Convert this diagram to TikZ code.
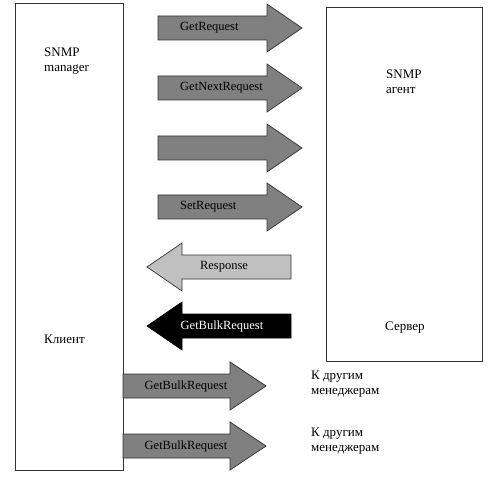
\documentclass[tikz,border=0pt]{standalone}
\usepackage{fontspec}
\setmainfont{Liberation Serif}
\definecolor{arrgray}{HTML}{808080}
\definecolor{arrlight}{HTML}{C0C0C0}
\definecolor{linegray}{HTML}{333333}
\newcommand\blockarrow[5]{%
  \draw[arrowline,#5] ({#1},{#4-12}) -- ({#2},{#4-12}) -- ({#2},{#4-24}) -- ({#3},{#4})
    -- ({#2},{#4+24}) -- ({#2},{#4+12}) -- ({#1},{#4+12}) -- cycle;}
\begin{document}
\begin{tikzpicture}[x=1pt,y=-1pt,
  arrowline/.style={draw=linegray,line width=0.7pt,line join=miter},
  boxstyle/.style={draw=linegray,line width=0.8pt,fill=white},
  lbl/.style={font=\fontsize{12.5}{14}\selectfont,inner sep=0pt},
  txt/.style={font=\fontsize{13}{15.5}\selectfont,inner sep=0pt,align=left,anchor=west}]
\useasboundingbox[fill=white] (0,0) rectangle (500,478);
% boxes
\draw[boxstyle] (15,3) rectangle (123,470);
\draw[boxstyle] (326,7) rectangle (482,361);
% request arrows
\blockarrow{158}{267}{302}{28}{fill=arrgray}
\node[lbl,anchor=west] (getreq) at (180,28) {GetRequest};
\blockarrow{158}{267}{302}{88}{fill=arrgray}
\node[lbl,anchor=west] (getnext) at (180,88) {GetNextRequest};
\blockarrow{158}{267}{302}{148}{fill=arrgray}
\blockarrow{158}{267}{302}{207}{fill=arrgray}
\node[lbl,anchor=west] (setreq) at (180,207) {SetRequest};
% response arrows
\blockarrow{291}{182}{147}{267}{fill=arrlight}
\node[lbl] (resp) at (224,267) {Response};
\blockarrow{291}{182}{147}{326}{fill=black,draw=black}
\node[lbl,text=white] (bulk1) at (222,326) {GetBulkRequest};
% to other managers
\blockarrow{123}{230}{266}{386}{fill=arrgray}
\node[lbl] (bulk2) at (186,386) {GetBulkRequest};
\blockarrow{123}{230}{266}{446}{fill=arrgray}
\node[lbl] (bulk3) at (186,446) {GetBulkRequest};
% texts
\node[txt] (mgr) at (44,61) {SNMP\\manager};
\node[txt] (client) at (44,339) {Клиент};
\node[txt] (agent) at (386,82) {SNMP\\агент};
\node[txt] (server) at (385,328) {Сервер};
\node[txt] (other1) at (311,384) {К другим\\менеджерам};
\node[txt] (other2) at (311,441) {К другим\\менеджерам};
\end{tikzpicture}
\end{document}
